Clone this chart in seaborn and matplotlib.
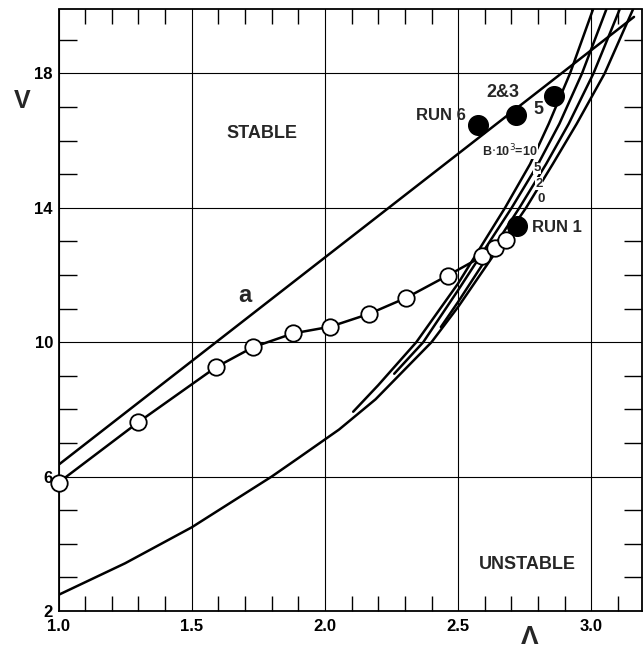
import matplotlib
matplotlib.use("Agg")
import matplotlib.pyplot as plt
from matplotlib.ticker import MultipleLocator, FixedLocator, FixedFormatter
import seaborn as sns

# ---------------- data ----------------
# straight stability boundary "a"
line_a_x = [1.0, 3.16]
line_a_y = [6.35, 19.68]

# open-circle measured curve
circ_x = [1.0, 1.30, 1.59, 1.73, 1.88, 2.02, 2.165, 2.305, 2.46, 2.59, 2.64, 2.68]
circ_y = [5.82, 7.62, 9.25, 9.85, 10.26, 10.46, 10.84, 11.32, 11.98, 12.55, 12.80, 13.05]

# filled-circle runs
run_x = [2.72, 2.575, 2.718, 2.86]
run_y = [13.45, 16.47, 16.77, 17.34]

# B*10^3 family of curves
b10_x = [2.106, 2.20, 2.343, 2.50, 2.676, 2.77, 2.84, 2.92, 3.006]
b10_y = [7.93, 8.72, 10.0, 11.75, 14.0, 15.3, 16.5, 18.0, 19.9]
b5_x = [2.26, 2.369, 2.50, 2.701, 2.80, 2.88, 2.965, 3.056]
b5_y = [9.06, 10.0, 11.55, 14.0, 15.3, 16.5, 18.0, 19.9]
b2_x = [2.435, 2.50, 2.73, 2.83, 2.915, 3.008, 3.106]
b2_y = [10.45, 11.2, 14.0, 15.3, 16.5, 18.0, 19.9]
b0_x = [1.0, 1.25, 1.5, 1.8, 1.9, 2.053, 2.19, 2.4, 2.5, 2.755, 2.855, 2.945, 3.05, 3.156]
b0_y = [2.48, 3.42, 4.49, 6.0, 6.55, 7.4, 8.3, 10.0, 11.05, 14.0, 15.3, 16.5, 18.0, 19.9]

x_ticks = [1.0, 1.5, 2.0, 2.5, 3.0]
x_tick_labels = ["1.0", "1.5", "2.0", "2.5", "3.0"]
y_ticks = [2, 6, 10, 14, 18]
y_tick_labels = ["2", "6", "10", "14", "18"]

# ---------------- style ----------------
sns.set_theme(style="white")
plt.rcParams['font.family'] = ['Liberation Sans', 'DejaVu Sans']

fig = plt.figure(figsize=(6.43, 6.49), dpi=100)
ax = fig.add_axes([58.5 / 643, 38 / 649, (642 - 58.5) / 643, (611 - 9.5) / 649])

lw = 1.8
for xs, ys in [(line_a_x, line_a_y), (b10_x, b10_y), (b5_x, b5_y),
               (b2_x, b2_y), (b0_x, b0_y), (circ_x, circ_y)]:
    sns.lineplot(x=xs, y=ys, sort=False, estimator=None, color="black",
                 linewidth=lw, ax=ax, zorder=3)

sns.scatterplot(x=circ_x, y=circ_y, s=140, color="white", edgecolor="black",
                linewidth=1.3, ax=ax, zorder=5, clip_on=False)
sns.scatterplot(x=run_x, y=run_y, s=200, color="black", edgecolor="black",
                linewidth=1.0, ax=ax, zorder=6)

ax.set_xlim(1.0, 3.19)
ax.set_ylim(2.0, 19.9)

ax.xaxis.set_major_locator(FixedLocator(x_ticks))
ax.xaxis.set_major_formatter(FixedFormatter(x_tick_labels))
ax.yaxis.set_major_locator(FixedLocator(y_ticks))
ax.yaxis.set_major_formatter(FixedFormatter(y_tick_labels))
ax.xaxis.set_minor_locator(MultipleLocator(0.1))
ax.yaxis.set_minor_locator(MultipleLocator(1))

ax.grid(True, which="major", color="black", linewidth=0.8)
ax.tick_params(which="major", length=0, labelsize=12, colors="black")
ax.tick_params(axis="x", which="major", pad=6)
ax.tick_params(axis="y", which="major", pad=4)
ax.tick_params(which="minor", direction="in", length=11, width=1.0,
               color="black", top=True, right=True, bottom=True, left=True)
ax.tick_params(axis="y", which="minor", length=13)
for lab in ax.get_xticklabels() + ax.get_yticklabels():
    lab.set_fontweight("bold")
for sp in ax.spines.values():
    sp.set_color("black")
    sp.set_linewidth(1.3)
ax.set_xlabel("")
ax.set_ylabel("")

# ---------------- annotations ----------------
gap = dict(facecolor="white", edgecolor="none", pad=0.2)
ax.text(1.764, 16.2, "STABLE", fontsize=13, fontweight="bold", ha="center", va="center")
ax.text(2.758, 3.37, "UNSTABLE", fontsize=13, fontweight="bold", ha="center", va="center")
ax.text(1.70, 11.4, "a", fontsize=17, fontweight="bold", ha="center", va="center")
ax.text(2.53, 16.76, "RUN 6", fontsize=12, fontweight="bold", ha="right", va="center")
ax.text(2.668, 17.42, "2&3", fontsize=13, fontweight="bold", ha="center", va="center")
ax.text(2.80, 16.91, "5", fontsize=13, fontweight="bold", ha="center", va="center")
ax.text(2.80, 15.70, "B$\\cdot$10$^3$=10", fontsize=9, fontweight="bold",
        ha="right", va="center", bbox=gap, zorder=4)
ax.text(2.795, 15.18, "5", fontsize=9.5, fontweight="bold", ha="center", va="center",
        bbox=gap, zorder=4)
ax.text(2.805, 14.72, "2", fontsize=9.5, fontweight="bold", ha="center", va="center",
        bbox=gap, zorder=4)
ax.text(2.811, 14.26, "0", fontsize=9.5, fontweight="bold", ha="center", va="center",
        bbox=gap, zorder=4)
ax.text(2.776, 13.42, "RUN 1", fontsize=12, fontweight="bold", ha="left", va="center")

fig.text(22 / 643, 1 - 101 / 649, "V", fontsize=18, fontweight="bold", ha="center", va="center")
fig.text(530 / 643, 1 - 637 / 649, "Λ", fontsize=19, fontweight="bold", ha="center", va="center")

fig.savefig("out.png", dpi=100, facecolor="white")
